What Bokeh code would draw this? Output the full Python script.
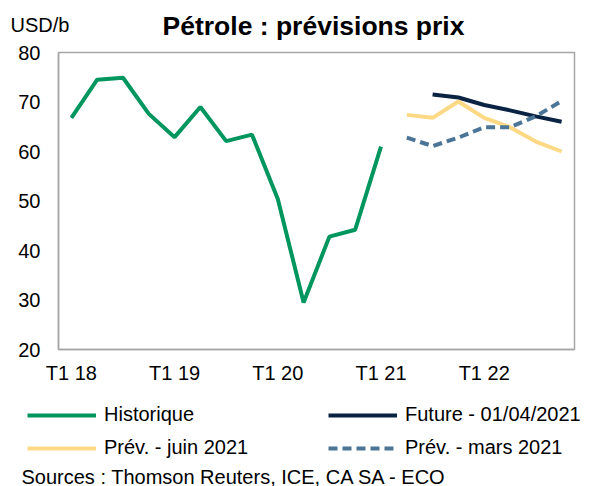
from bokeh.plotting import figure
from bokeh.models import (ColumnDataSource, Range1d, FixedTicker, Label, Legend, LegendItem)
from bokeh.embed import file_html
from bokeh.resources import INLINE

# ---- data ----
quarters = [f"T{q} {y}" for y in range(18, 23) for q in range(1, 5)]
tick_labels = ["T1 18", "T1 19", "T1 20", "T1 21", "T1 22"]
y_ticks = [20, 30, 40, 50, 60, 70, 80]

hist_start = "T1 18"
historique = [66.8, 74.5, 74.9, 67.6, 62.9, 69.0, 62.1, 63.4, 50.4, 29.5, 42.8, 44.2, 61.0]
future_start = "T3 21"
future = [71.5, 70.9, 69.4, 68.3, 67.1, 66.0]
juin_start = "T2 21"
prev_juin = [67.4, 66.8, 70.1, 66.8, 64.9, 62.0, 60.0]
mars_start = "T2 21"
prev_mars = [62.8, 61.1, 62.8, 64.9, 64.9, 67.1, 70.2]

series_names = ["Historique", "Future - 01/04/2021", "Prév. - juin 2021", "Prév. - mars 2021"]
title_text = "Pétrole : prévisions prix"
unit_text = "USD/b"
source_text = "Sources : Thomson Reuters, ICE, CA SA - ECO"

FONT = "Liberation Sans"
STYLES = {
    "Historique": dict(line_color="#00965e", line_width=4),
    "Future - 01/04/2021": dict(line_color="#0b2343", line_width=4),
    "Prév. - juin 2021": dict(line_color="#fdd986", line_width=4),
    "Prév. - mars 2021": dict(line_color="#4b7596", line_width=4, line_dash="9 5"),
}
MAIN_H = 395
FOOT_H = 486 - MAIN_H


def src(start, vals):
    i0 = quarters.index(start)
    return ColumnDataSource(dict(x=list(range(i0, i0 + len(vals))), y=vals))


# ---------------- main chart ----------------
p = figure(width=590, height=MAIN_H, frame_width=516, frame_height=297,
           output_backend="svg", toolbar_location=None,
           x_range=Range1d(-0.5, len(quarters) - 0.5), y_range=Range1d(20, 80),
           min_border_left=58, min_border_right=16, min_border_top=52, min_border_bottom=46)
p.xgrid.visible = False
p.ygrid.visible = False
p.outline_line_color = "#a6a6a6"
p.outline_line_width = 1.5

p.xaxis.ticker = FixedTicker(ticks=[quarters.index(t) for t in tick_labels])
p.xaxis.major_label_overrides = {quarters.index(t): t for t in tick_labels}
p.yaxis.ticker = FixedTicker(ticks=y_ticks)
for ax in (p.xaxis[0], p.yaxis[0]):
    ax.axis_line_color = "#a6a6a6"
    ax.axis_line_width = 1.5
    ax.major_tick_line_color = None
    ax.minor_tick_line_color = None
    ax.major_tick_out = 0
    ax.major_tick_in = 0
    ax.minor_tick_out = 0
    ax.major_label_text_font = FONT
    ax.major_label_text_font_size = "20px"
    ax.major_label_text_color = "black"
p.yaxis.major_label_standoff = 18
p.xaxis.major_label_standoff = 12

p.line("x", "y", source=src(hist_start, historique), **STYLES[series_names[0]])
p.line("x", "y", source=src(future_start, future), **STYLES[series_names[1]])
p.line("x", "y", source=src(juin_start, prev_juin), **STYLES[series_names[2]])
p.line("x", "y", source=src(mars_start, prev_mars), **STYLES[series_names[3]])

p.add_layout(Label(x=255, y=26.5, x_units="screen", y_units="screen",
                   text=title_text, text_font=FONT, text_font_size="26.5px",
                   text_font_style="bold", text_align="center", text_baseline="middle",
                   text_color="black"), "above")
p.add_layout(Label(x=-48, y=-2, x_units="screen", y_units="screen",
                   text=unit_text, text_font=FONT, text_font_size="20px",
                   text_align="left", text_baseline="middle", text_color="black"), "above")

# ---------------- footer: legend keys + sources ----------------
f = figure(width=590, height=FOOT_H, frame_width=590, frame_height=FOOT_H,
           output_backend="svg", toolbar_location=None,
           x_axis_location=None, y_axis_location=None,
           x_range=Range1d(0, 1), y_range=Range1d(0, 1),
           min_border_left=0, min_border_right=0, min_border_top=0, min_border_bottom=0)
f.xgrid.visible = False
f.ygrid.visible = False
f.outline_line_color = None

nan = float("nan")
keys = {name: f.line(x=[nan], y=[nan], **STYLES[name]) for name in series_names}
legend = Legend(items=[
    LegendItem(label=series_names[0], renderers=[keys[series_names[0]]]),
    LegendItem(label=series_names[2], renderers=[keys[series_names[2]]]),
    LegendItem(label=series_names[1], renderers=[keys[series_names[1]]]),
    LegendItem(label=series_names[3], renderers=[keys[series_names[3]]]),
], ncols=2, location=(27, 27), padding=0, margin=0, spacing=10,
    glyph_width=69, glyph_height=22, label_height=22, label_width=214, label_standoff=8,
    label_text_font=FONT, label_text_font_size="20px", label_text_color="black",
    border_line_color=None, background_fill_alpha=0)
f.add_layout(legend)

f.add_layout(Label(x=21, y=10, x_units="screen", y_units="screen",
                   text=source_text, text_font=FONT, text_font_size="20px",
                   text_align="left", text_baseline="middle", text_color="black"))

open("out.html", "w").write(file_html([p, f], INLINE))
